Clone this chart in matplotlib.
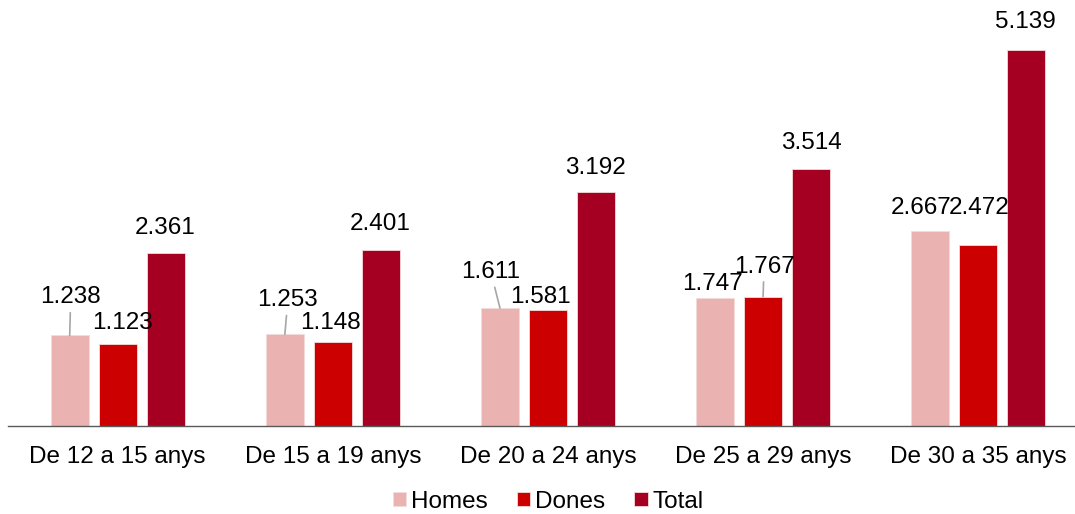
import numpy as np
import matplotlib.pyplot as plt

plt.rcParams['font.family'] = ['Liberation Sans', 'DejaVu Sans']

categories = ['De 12 a 15 anys', 'De 15 a 19 anys', 'De 20 a 24 anys',
              'De 25 a 29 anys', 'De 30 a 35 anys']
homes = [1.238, 1.253, 1.611, 1.747, 2.667]
dones = [1.123, 1.148, 1.581, 1.767, 2.472]
total = [2.361, 2.401, 3.192, 3.514, 5.139]

series = [('Homes', homes, '#EBB2B2'),
          ('Dones', dones, '#CC0000'),
          ('Total', total, '#A50021')]

# label offsets in pixels (dx, dy) from the top of each bar, and leader flag
label_off = {
    'Homes': [(1, 38, True), (3, 34, True), (-9, 36, True), (-3, 14, False), (-9, 23, False)],
    'Dones': [(5, 21, False), (-2, 19, False), (-7, 13, False), (1, 30, True), (1, 37, False)],
    'Total': [(-1, 25, False), (-1, 26, False), (0, 24, False), (0, 26, False), (-1, 28, False)],
}

FS = 17.5

fig = plt.figure(figsize=(10.75, 5.14), dpi=100)
ax = fig.add_axes([0.0074, 0.171, 0.9926, 0.829])

x = np.arange(len(categories))
width = 0.177
step = 0.223
for k, (name, vals, col) in enumerate(series):
    pos = x + (k - 1) * step
    ax.bar(pos, vals, width, color=col, edgecolor='#F5DADA', linewidth=0.6, label=name)
    for i, (px, v) in enumerate(zip(pos, vals)):
        dx, dy, lead = label_off[name][i]
        ap = None
        if lead:
            ap = dict(arrowstyle='-', color='#A6A6A6', lw=1.2, shrinkA=1, shrinkB=0)
        ax.annotate(f'{v:.3f}', xy=(px, v), xytext=(dx, dy), textcoords='offset pixels',
                    ha='center', va='center', fontsize=FS, color='#000000',
                    arrowprops=ap)

ax.set_xlim(-0.51, 4.45)
ax.set_ylim(0, 5.82)
ax.set_xticks(x)
ax.set_xticklabels(categories, fontsize=FS)
ax.tick_params(axis='x', length=0, pad=14)
ax.set_yticks([])
for s in ['top', 'right', 'left']:
    ax.spines[s].set_visible(False)
ax.spines['bottom'].set_color('#595959')
ax.spines['bottom'].set_linewidth(1.0)

fig.legend(loc='center', bbox_to_anchor=(0.51, 0.024), ncol=3, frameon=False,
           fontsize=FS, handlelength=0.55, handleheight=0.55, handletextpad=0.2,
           columnspacing=1.2, borderpad=0.1)

fig.savefig('out.png', dpi=100)
